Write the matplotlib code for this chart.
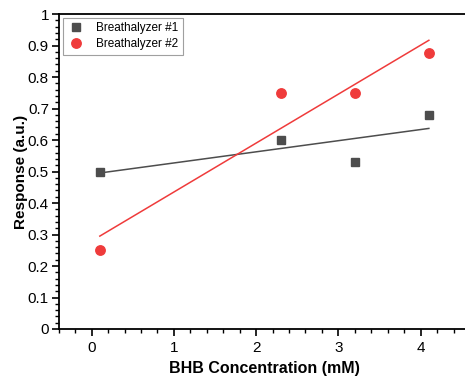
import numpy as np
import matplotlib.pyplot as plt
from matplotlib.ticker import MultipleLocator

plt.rcParams['font.family'] = ['Liberation Sans', 'DejaVu Sans']

# Datos
conc = [0.1, 2.3, 3.2, 4.1]
resp_1 = [0.50, 0.60, 0.53, 0.68]
resp_2 = [0.25, 0.75, 0.75, 0.875]
labels = ['Breathalyzer #1', 'Breathalyzer #2']

gris = '#4d4d4d'
rojo = '#ef3b3b'

fig = plt.figure(figsize=(4.65, 3.79), dpi=100)
ax = fig.add_axes([58.7 / 465, 1 - 329 / 379, (470 - 58.7) / 465, (329 - 14) / 379])

x = np.array(conc)
# Ajustes lineales
for y, c in [(resp_1, gris), (resp_2, rojo)]:
    p = np.polyfit(x, y, 1)
    ax.plot(x[[0, -1]], np.polyval(p, x[[0, -1]]), color=c, lw=1.1, zorder=2)

ax.plot(conc, resp_1, 's', color=gris, ms=6, label=labels[0], zorder=3)
ax.plot(conc, resp_2, 'o', color=rojo, ms=6.8, label=labels[1], zorder=3)

ax.set_xlim(-0.4, 4.6)
ax.set_ylim(0, 1)
ax.xaxis.set_major_locator(MultipleLocator(1))
ax.xaxis.set_minor_locator(MultipleLocator(0.2))
ax.yaxis.set_minor_locator(MultipleLocator(0.02))
ax.set_yticks(np.arange(0, 1.01, 0.1))
ax.set_yticklabels(['0', '0.1', '0.2', '0.3', '0.4', '0.5', '0.6', '0.7', '0.8', '0.9', '1'])

ax.tick_params(which='major', direction='out', length=5, width=1.2, labelsize=11, pad=2)
ax.tick_params(axis='x', which='major', pad=4)
ax.tick_params(which='minor', direction='out', length=3, width=1)
for s in ax.spines.values():
    s.set_linewidth(1.3)

ax.set_xlabel('BHB Concentration (mM)', fontsize=11.5, fontweight='bold', labelpad=4)
ax.set_ylabel('Response (a.u.)', fontsize=11, fontweight='bold', labelpad=0)

leg = ax.legend(loc='upper left', fontsize=8.5, frameon=True, fancybox=False,
                edgecolor='#888888', borderpad=0.35, handletextpad=0.9,
                labelspacing=0.35, borderaxespad=0.35, handlelength=1.6)
leg.get_frame().set_linewidth(0.8)

plt.savefig('out.png', dpi=100)
